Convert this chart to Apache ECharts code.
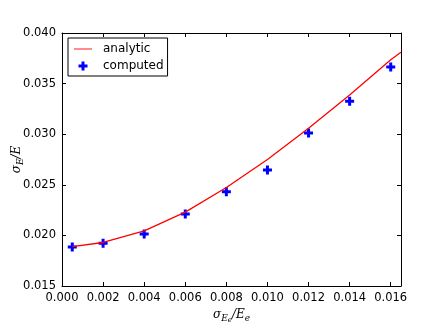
<!DOCTYPE html>
<html>
<head>
<meta charset="utf-8">
<script src="https://cdn.jsdelivr.net/npm/echarts@6/dist/echarts.min.js"></script>
<style>
html, body { margin: 0; padding: 0; background: #fff; }
#main { width: 446px; height: 334px; }
</style>
</head>
<body>
<div id="main"></div>
<script>
// analytic curve
var analyticX = [0.0005, 0.002, 0.004, 0.006, 0.008, 0.010, 0.012, 0.014, 0.016, 0.0165];
var analyticY = [0.01890, 0.01930, 0.02045, 0.02230, 0.02473, 0.02750, 0.03058, 0.03388, 0.03735, 0.03810];
// computed points
var computedX = [0.0005, 0.002, 0.004, 0.006, 0.008, 0.010, 0.012, 0.014, 0.016];
var computedY = [0.01885, 0.01922, 0.02014, 0.02211, 0.02432, 0.02646, 0.03012, 0.03325, 0.03664];

var plus = 'path://M3,0H6V3H9V6H6V9H3V6H0V3H3Z';
var font = 'DejaVu Sans';

function pairs(xs, ys) {
    return xs.map(function (x, i) { return [x, ys[i]]; });
}

var myChart = echarts.init(document.getElementById('main'));
var axisCommon = {
    axisLine: { show: true, onZero: false, lineStyle: { color: '#000', width: 1 } },
    axisTick: { show: true, inside: true, length: 4, lineStyle: { color: '#000' } },
    splitLine: { show: false }
};
myChart.setOption({
    animation: false,
    grid: { left: 62, right: 45, top: 33, bottom: 48, containLabel: false, outerBoundsMode: 'none' },
    legend: {
        orient: 'vertical',
        left: 68, top: 38,
        borderColor: '#000', borderWidth: 1,
        padding: [5, 4, 4, 6],
        itemGap: 5, itemWidth: 18, itemHeight: 9,
        textStyle: { fontFamily: font, fontSize: 12, color: '#000', padding: [0, 0, 0, 6] },
        data: [
            { name: 'analytic', icon: 'path://M0,0H20V1H0Z', itemStyle: { color: '#f00' } },
            { name: 'computed', icon: plus }
        ]
    },
    xAxis: [
        Object.assign({
            type: 'value', min: 0, max: 0.0165, interval: 0.002,
            name: '{s|σ}{sub|E}{subsub|e}{s|/E}{sub|e}',
            nameLocation: 'middle', nameGap: 19, nameMoveOverlap: false,
            nameTextStyle: {
                rich: {
                    s: { fontFamily: 'DejaVu Serif', fontStyle: 'italic', fontSize: 12, color: '#000' },
                    sub: { fontFamily: 'DejaVu Serif', fontStyle: 'italic', fontSize: 9, color: '#000', padding: [8, 0, 0, 0] },
                    subsub: { fontFamily: 'DejaVu Serif', fontStyle: 'italic', fontSize: 7, color: '#000', padding: [12, 0, 0, 0] }
                }
            },
            axisLabel: {
                fontFamily: font, fontSize: 11.5, color: '#000', margin: 6,
                formatter: function (v) { return v.toFixed(3); }
            }
        }, axisCommon),
        Object.assign({
            type: 'value', min: 0, max: 0.0165, interval: 0.002, position: 'top',
            axisLabel: { show: false }
        }, axisCommon)
    ],
    yAxis: [
        Object.assign({
            type: 'value', min: 0.015, max: 0.040, interval: 0.005,
            name: '{s|σ}{sub|E}{s|/E}',
            nameLocation: 'middle', nameGap: 37, nameRotate: 90, nameMoveOverlap: false,
            nameTextStyle: {
                rich: {
                    s: { fontFamily: 'DejaVu Serif', fontStyle: 'italic', fontSize: 12, color: '#000' },
                    sub: { fontFamily: 'DejaVu Serif', fontStyle: 'italic', fontSize: 9, color: '#000', padding: [8, 0, 0, 0] }
                }
            },
            axisLabel: {
                fontFamily: font, fontSize: 11.5, color: '#000', margin: 6,
                formatter: function (v) { return v.toFixed(3); }
            }
        }, axisCommon),
        Object.assign({
            type: 'value', min: 0.015, max: 0.040, interval: 0.005, position: 'right',
            axisLabel: { show: false }
        }, axisCommon)
    ],
    series: [
        {
            name: 'analytic',
            type: 'line',
            data: pairs(analyticX, analyticY),
            showSymbol: false,
            symbol: 'none',
            clip: true,
            lineStyle: { color: '#f00', width: 1.3 },
            itemStyle: { color: '#f00' }
        },
        {
            name: 'computed',
            type: 'scatter',
            data: pairs(computedX, computedY),
            symbol: plus,
            symbolSize: 9,
            itemStyle: { color: '#00f', opacity: 1 }
        }
    ]
});
</script>
</body>
</html>
